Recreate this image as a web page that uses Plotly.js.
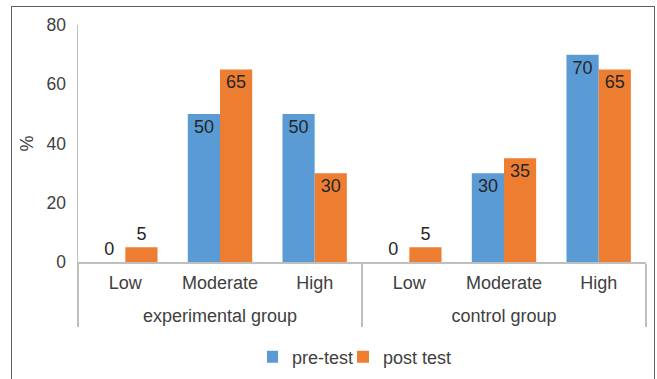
<!DOCTYPE html>
<html>
<head>
<meta charset="utf-8">
<script src="https://cdn.plot.ly/plotly-3.0.1.min.js"></script>
<style>
  html, body { margin: 0; padding: 0; background: #ffffff; }
  #wrap { position: relative; width: 657px; height: 379px; overflow: hidden; }
  #chart { position: absolute; left: 0; top: 0; width: 657px; height: 379px; }
  #frame { position: absolute; left: 11px; top: 6px; width: 644px; height: 420px;
           border: 1.5px solid #5f5f5f; box-sizing: border-box; pointer-events: none; }
</style>
</head>
<body>
<div id="wrap">
  <div id="chart"></div>
  <div id="frame"></div>
</div>
<script>
const groups = ["experimental group", "experimental group", "experimental group",
                "control group", "control group", "control group"];
const levels = ["Low", "Moderate", "High", "Low", "Moderate", "High"];
const preTest = [0, 50, 50, 0, 30, 70];
const postTest = [5, 65, 30, 5, 35, 65];
const seriesNames = ["pre-test", "post test"];
const yTicks = [0, 20, 40, 60, 80];

const FONT = "Liberation Sans, Arial, sans-serif";
const TXT = "#404040";
const FS = 18;

// add a small invisible second line under the level labels so the group row sits lower
const levelAlias = {};
levels.forEach(l => { levelAlias[l] = l + "<br><sup>\u00a0</sup>"; });

function barTrace(name, values, color) {
  return {
    type: "bar",
    name: name,
    x: [groups, levels],
    y: values,
    text: values.map(String),
    texttemplate: "%{text}",
    textposition: values.map(v => (v >= 10 ? "inside" : "outside")),
    insidetextanchor: "end",
    constraintext: "none",
    textfont: { family: FONT, size: FS, color: "#262626" },
    insidetextfont: { family: FONT, size: FS, color: "#262626" },
    outsidetextfont: { family: FONT, size: FS, color: "#262626" },
    marker: { color: color },
    cliponaxis: false,
    hoverinfo: "skip"
  };
}

const data = [
  barTrace(seriesNames[0], preTest, "#5b9bd5"),
  barTrace(seriesNames[1], postTest, "#ed7d31")
];

const layout = {
  width: 657,
  height: 379,
  margin: { l: 78, r: 11, t: 25, b: 117 },
  paper_bgcolor: "#ffffff",
  plot_bgcolor: "#ffffff",
  font: { family: FONT, size: FS, color: TXT },
  barmode: "group",
  bargap: 0.32,
  bargroupgap: 0,
  showlegend: true,
  legend: {
    orientation: "h",
    xref: "paper",
    x: 0.5, xanchor: "center",
    yref: "container",
    y: 0.058, yanchor: "middle",
    font: { family: FONT, size: FS, color: TXT },
    itemwidth: 30,
    indentation: -15,
    tracegroupgap: 0
  },
  xaxis: {
    type: "multicategory",
    showline: true,
    linecolor: "#bfbfbf",
    linewidth: 1.5,
    showgrid: false,
    zeroline: false,
    ticks: "",
    labelalias: levelAlias,
    ticklabelstandoff: 4,
    showdividers: true,
    dividercolor: "#bfbfbf",
    dividerwidth: 1.5,
    tickfont: { family: FONT, size: FS, color: TXT }
  },
  yaxis: {
    range: [0, 80],
    tickvals: yTicks,
    ticktext: yTicks.map(String),
    showline: true,
    linecolor: "#bfbfbf",
    linewidth: 1.5,
    showgrid: false,
    zeroline: false,
    ticks: "",
    ticklabelstandoff: 7,
    tickfont: { family: FONT, size: 17.5, color: TXT },
    title: { text: "%", font: { family: FONT, size: FS, color: TXT }, standoff: 8 }
  }
};

Plotly.newPlot("chart", data, layout, { displayModeBar: false, staticPlot: true });
</script>
</body>
</html>
